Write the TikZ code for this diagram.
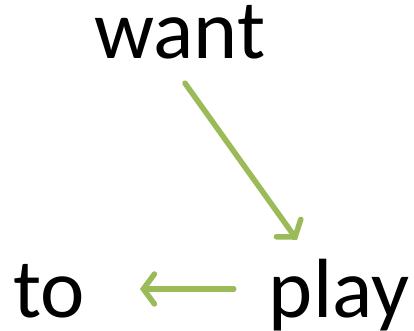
\documentclass[tikz,border=0pt]{standalone}
\usepackage{fontspec}
\setmainfont{Carlito}
\usetikzlibrary{arrows.meta}
\definecolor{leafgreen}{RGB}{155,187,89}

\begin{document}
\begin{tikzpicture}[x=1pt,y=1pt,
  word/.style={inner sep=0pt,anchor=base,text height=52pt,text depth=12pt,
    font=\fontsize{84}{90}\selectfont},
  link/.style={leafgreen,line width=5.5pt,line cap=round,
    -{Straight Barb[length=11pt,width=30pt,line cap=round]}}]
  \useasboundingbox (0,0) rectangle (414,330);
  \node[word] (want) at (180,271) {want};
  \node[word] (play) at (339,13) {play};
  \node[word] (to) at (49,13) {to};
  \draw[link] ([shift={(5pt,-12pt)}]want.south)
    -- ([shift={(-42pt,25pt)}]play.north);
  \draw[link,shorten <=35pt,shorten >=55pt] ([yshift=8pt]play.west)
    -- ([yshift=8pt]to.east);
\end{tikzpicture}
\end{document}
